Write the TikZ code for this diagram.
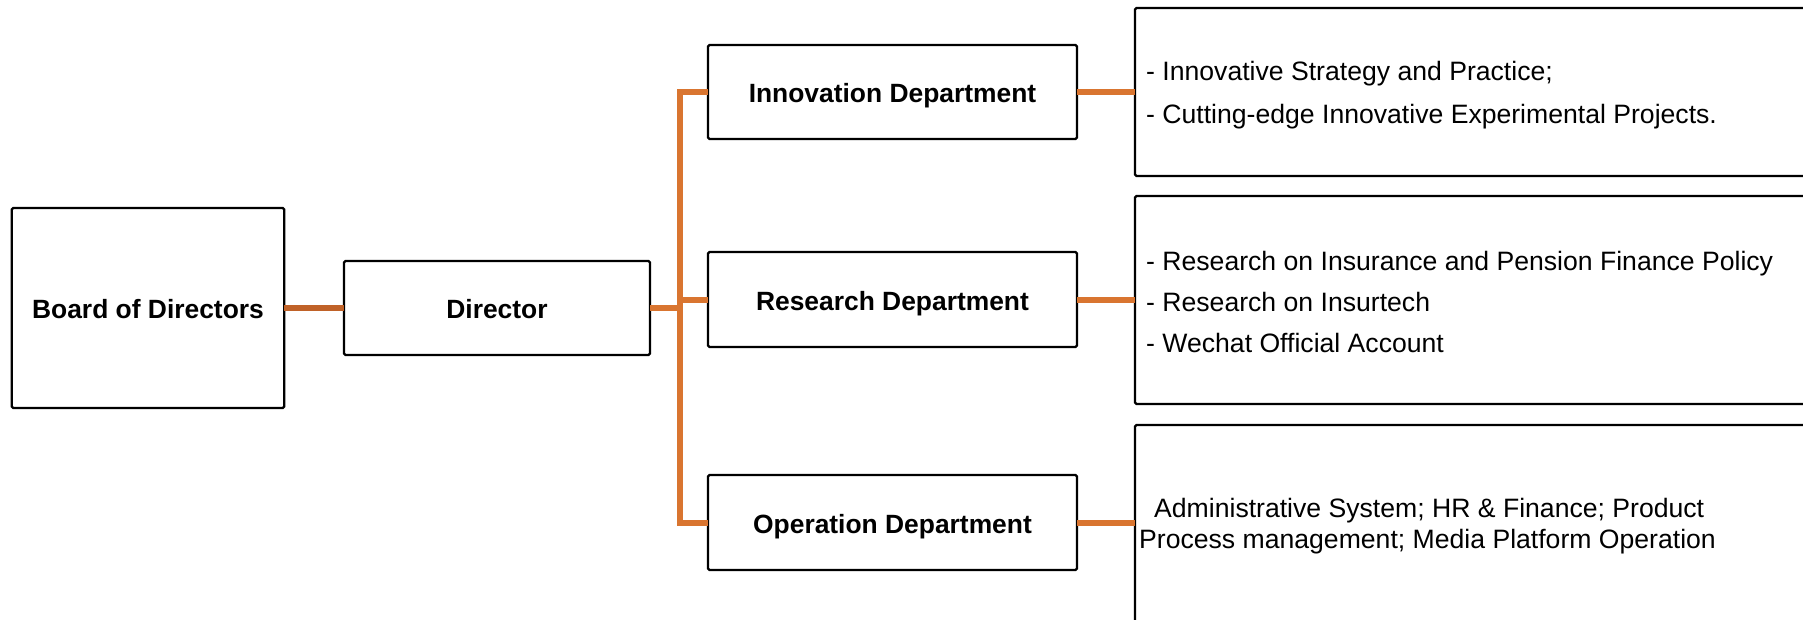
\documentclass[tikz,border=0pt]{standalone}
\usepackage{fontspec}
\setmainfont{Liberation Sans}
\definecolor{conn}{RGB}{217,117,48}
\definecolor{conndark}{RGB}{192,98,40}
\begin{document}
\begin{tikzpicture}[x=1pt,y=-1pt,
  box/.style={draw=black, line width=2.2pt, rounded corners=1.5pt, inner sep=0pt, outer sep=0pt,
    text height=21pt, text depth=0pt,
    font={\fontsize{26.4}{32}\selectfont\bfseries}},
  info/.style={anchor=west, align=left, inner sep=0pt},
  wire/.style={draw=conn, line width=6pt},
]
\useasboundingbox (0,0) rectangle (1803,619);
\clip (0,0) rectangle (1803,619);
% left nodes
\node[box, minimum width=272.5pt, minimum height=200pt] (board) at (148,308) {Board of Directors};
\node[box, minimum width=306pt, minimum height=94pt] (dir) at (497,308) {Director};
% departments
\node[box, minimum width=369pt, minimum height=94pt] (inno) at (892.5,92) {Innovation Department};
\node[box, minimum width=369pt, minimum height=95pt] (res) at (892.5,299.5) {Research Department};
\node[box, minimum width=369pt, minimum height=95pt] (oper) at (892.5,522.5) {Operation Department};
% right boxes
\node[box, minimum width=765pt, minimum height=168pt] (r1) at (1517.5,92) {};
\node[box, minimum width=765pt, minimum height=208pt] (r2) at (1517.5,300) {};
\node[box, minimum width=765pt, minimum height=199pt] (r3) at (1517.5,524.5) {};
% texts in right boxes
\node[info, font={\fontsize{26.6}{43}\selectfont}] (t1) at (1146,95) {- Innovative Strategy and Practice;\\- Cutting-edge Innovative Experimental Projects.};
\node[info, font={\fontsize{26.6}{41}\selectfont}] (t2) at (1146,302) {- Research on Insurance and Pension Finance Policy\\- Research on Insurtech\\- Wechat Official Account};
\node[info, font={\fontsize{26.6}{31.5}\selectfont}] (t3) at (1139,526) {\hspace*{15pt}Administrative System; HR \& Finance; Product\\Process management; Media Platform Operation};
% connectors
\draw[draw=conndark, line width=6.5pt] (board.east) -- (dir.west);
\coordinate (bus) at (679.5,308);
\draw[wire] (dir.east) -- (bus);
\draw[wire, line join=miter] (inno.west) -| (bus);
\draw[wire, line join=miter] (oper.west) -| (bus);
\draw[wire] (res.west) -- (res.west -| bus);
\draw[wire] (inno.east) -- (inno.east -| r1.west);
\draw[wire] (res.east) -- (res.east -| r2.west);
\draw[wire] (oper.east) -- (oper.east -| r3.west);
\end{tikzpicture}
\end{document}
